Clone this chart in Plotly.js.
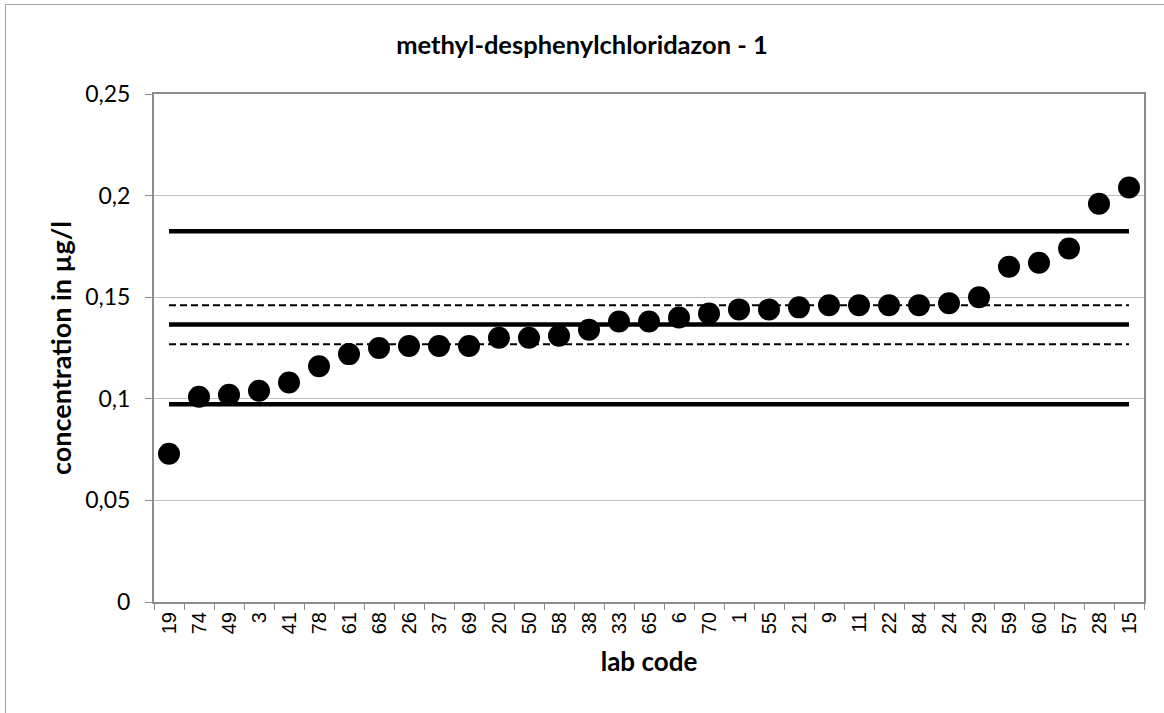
<!DOCTYPE html>
<html>
<head>
<meta charset="utf-8">
<script src="https://cdn.plot.ly/plotly-3.0.1.min.js"></script>
<style>
  html, body { margin: 0; padding: 0; background: #fff; }
  #wrap { position: relative; width: 1164px; height: 713px; overflow: hidden; }
  #chart { position: absolute; left: 0; top: 0; width: 1164px; height: 713px; }
  #frame { position: absolute; left: 5px; top: 4px; width: 1200px; height: 800px;
           border: 1px solid #a6a6a6; pointer-events: none; box-sizing: border-box; }
</style>
</head>
<body>
<div id="wrap"><div id="chart"></div><div id="frame"></div></div>
<script>
const labCodes = ["19","74","49","3","41","78","61","68","26","37","69","20","50","58","38","33","65","6","70","1","55","21","9","11","22","84","24","29","59","60","57","28","15"];
const concentrations = [0.073,0.101,0.102,0.104,0.108,0.116,0.122,0.125,0.126,0.126,0.126,0.130,0.130,0.131,0.134,0.138,0.138,0.140,0.142,0.144,0.144,0.145,0.146,0.146,0.146,0.146,0.147,0.150,0.165,0.167,0.174,0.196,0.204];
const upperLimit = 0.1824;
const upperDashed = 0.146;
const assignedValue = 0.1366;
const lowerDashed = 0.1268;
const lowerLimit = 0.0973;
const yTickVals = [0, 0.05, 0.1, 0.15, 0.2, 0.25];

function hline(v, width, dash) {
  return {
    type: 'scatter', mode: 'lines', x: labCodes, y: labCodes.map(() => v),
    line: {color: '#000', width: width, dash: dash}, hoverinfo: 'skip', showlegend: false
  };
}

const traces = [
  hline(upperLimit, 4.5, 'solid'),
  hline(upperDashed, 2, '7px,4px'),
  hline(assignedValue, 4.5, 'solid'),
  hline(lowerDashed, 2, '7px,4px'),
  hline(lowerLimit, 4.5, 'solid'),
  {
    type: 'scatter', mode: 'markers', x: labCodes, y: concentrations,
    marker: {color: '#000', size: 22}, showlegend: false
  }
];

const layout = {
  width: 1164, height: 713,
  margin: {l: 154, r: 20, t: 94, b: 111},
  paper_bgcolor: 'rgba(0,0,0,0)', plot_bgcolor: '#fff',
  separators: ', ',
  showlegend: false,
  title: {
    text: 'methyl-desphenylchloridazon - 1',
    font: {family: 'Lato', size: 25.5, color: '#000', weight: 'bold'},
    x: 0.5, xanchor: 'center', y: 0.937, yanchor: 'middle'
  },
  xaxis: {
    type: 'category', range: [-0.5, labCodes.length - 0.5],
    tickson: 'boundaries', ticks: 'outside', ticklen: 6, tickcolor: '#8c8c8c', tickwidth: 1,
    showline: true, linecolor: '#8c8c8c', linewidth: 2, mirror: true,
    showgrid: false, zeroline: false,
    tickangle: -90, tickfont: {family: 'Liberation Sans, Arial', size: 20, color: '#000'},
    title: {text: 'lab code', font: {family: 'Lato', size: 26, color: '#000', weight: 'bold'}, standoff: 20}
  },
  yaxis: {
    range: [0, 0.25], tickvals: yTickVals, ticks: 'outside', ticklen: 7, tickcolor: '#8c8c8c',
    showline: true, linecolor: '#8c8c8c', linewidth: 2, mirror: true,
    showgrid: true, gridcolor: '#bfbfbf', gridwidth: 1, zeroline: false,
    ticklabelstandoff: 10,
    tickfont: {family: 'Lato', size: 23, color: '#000'},
    title: {text: 'concentration in µg/l', font: {family: 'Lato', size: 27, color: '#000', weight: 'bold'}, standoff: 6}
  }
};

Plotly.newPlot('chart', traces, layout, {displayModeBar: false, staticPlot: true});
</script>
</body>
</html>
